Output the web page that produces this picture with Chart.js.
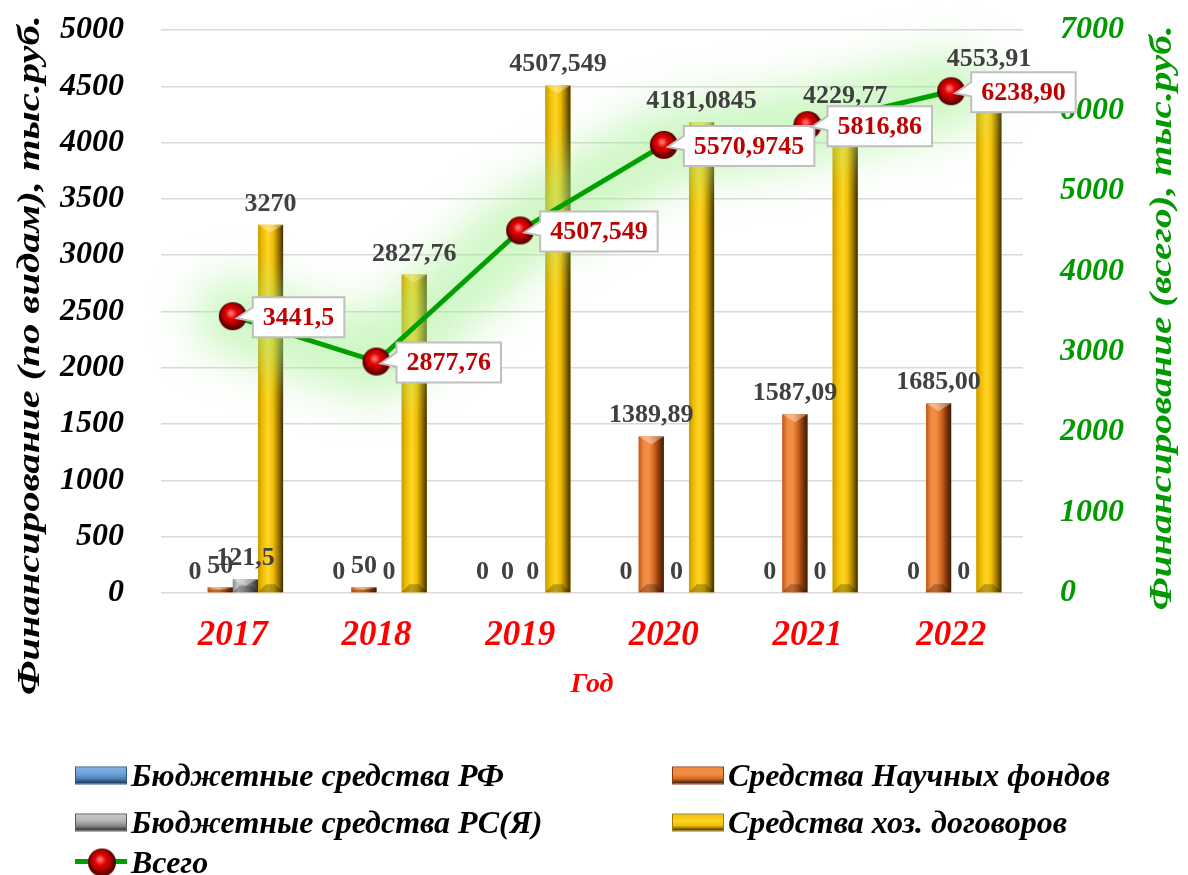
<!DOCTYPE html>
<html lang="ru">
<head>
<meta charset="utf-8">
<title>Финансирование</title>
<script src="https://cdn.jsdelivr.net/npm/chart.js@4.4.0/dist/chart.umd.min.js"></script>
<style>
  html, body { margin: 0; padding: 0; background: #fff; }
  #wrap { position: relative; width: 1188px; height: 875px; overflow: hidden; }
  #legend { position: absolute; left: 0; top: 0; width: 1188px; height: 875px; pointer-events: none;
            font-family: "Liberation Serif", "Times New Roman", serif; font-style: italic; font-weight: bold; font-size: 32px; color: #000; }
  .item { position: absolute; display: flex; align-items: center; white-space: nowrap; transform: translateY(-50%); }
  .swatch { width: 52px; height: 18px; margin-right: 4px; box-sizing: border-box; }
</style>
</head>
<body>
<div id="wrap">
  <canvas id="chart" width="1188" height="875"></canvas>
  <div id="legend"></div>
</div>
<script>
// данные: финансирование по годам, тыс. руб.
const years = ["2017", "2018", "2019", "2020", "2021", "2022"];
const budgetRF = [0, 0, 0, 0, 0, 0];
const sciFunds = [50, 50, 0, 1389.89, 1587.09, 1685.00];
const budgetRSY = [121.5, 0, 0, 0, 0, 0];
const contracts = [3270, 2827.76, 4507.549, 4181.0845, 4229.77, 4553.91];
const total = [3441.5, 2877.76, 4507.549, 5570.9745, 5816.86, 6238.90];
// сколько знаков после запятой в подписях
const rfDecimals = [0, 0, 0, 0, 0, 0];
const sciDecimals = [0, 0, 0, 2, 2, 2];
const rsyDecimals = [1, 0, 0, 0, 0, 0];
const contractDecimals = [0, 2, 3, 4, 2, 2];
const totalDecimals = [1, 2, 3, 4, 2, 2];

const serif = "'Liberation Serif', 'Times New Roman', serif";
const fmt = (v, d) => v.toFixed(d).replace(".", ",");

// глянцевый красный маркер
function makeMarker(r) {
  const c = document.createElement("canvas");
  c.width = c.height = 2 * r + 2;
  const g = c.getContext("2d");
  const cx = r + 1, cy = r + 1;
  let grad = g.createRadialGradient(cx, cy, r * 0.3, cx, cy, r);
  grad.addColorStop(0, "#b00000");
  grad.addColorStop(1, "#560000");
  g.fillStyle = grad;
  g.beginPath(); g.arc(cx, cy, r, 0, Math.PI * 2); g.fill();
  grad = g.createRadialGradient(cx - 2, cy - 3, 1, cx - 1, cy - 2, r * 0.8);
  grad.addColorStop(0, "#ff7070");
  grad.addColorStop(0.45, "#e00000");
  grad.addColorStop(1, "#a00000");
  g.fillStyle = grad;
  g.beginPath(); g.arc(cx - 1, cy - 2, r * 0.78, 0, Math.PI * 2); g.fill();
  return c;
}
const marker = makeMarker(14);

function barSet(label, data, decimals, color, shade) {
  return {
    type: "bar", label, data, decimals, shade,
    backgroundColor: color, borderWidth: 0,
    yAxisID: "y", order: 1,
    categoryPercentage: 0.7, barPercentage: 1.0
  };
}

const datasets = [
  barSet("Бюджетные средства РФ", budgetRF, rfDecimals, "#5b8fc7",
    ["#3a6ea5", "#7fb2e5", "#6fa3d8", "#4a7fb5", "#2c5580", "#1a3350"]),
  barSet("Средства Научных фондов", sciFunds, sciDecimals, "#e8793a",
    ["#c0561a", "#f08a40", "#f58e45", "#d06a25", "#8a3a0a", "#3a1a05"]),
  barSet("Бюджетные средства РС(Я)", budgetRSY, rsyDecimals, "#a0a0a0",
    ["#8a8a8a", "#c8c8c8", "#b4b4b4", "#8a8a8a", "#5a5a5a", "#303030"]),
  barSet("Средства хоз. договоров", contracts, contractDecimals, "#f5c400",
    ["#c99a06", "#f0c000", "#ffd42a", "#f2be00", "#a07a00", "#3e2e00"]),
  {
    type: "line", label: "Всего", data: total, decimals: totalDecimals,
    yAxisID: "y1", order: 0,
    borderColor: "#00a000", borderWidth: 5, tension: 0,
    pointStyle: marker, pointRadius: 14, pointHoverRadius: 14
  }
];

// объёмная заливка столбцов и свечение линии
const shading = {
  id: "shading",
  beforeDatasetDraw(chart, args) {
    if (args.meta.type !== "line") return;
    const ctx = chart.ctx;
    const pts = args.meta.data;
    ctx.save();
    ctx.filter = "blur(22px)";
    ctx.strokeStyle = "rgba(160, 240, 140, 0.5)";
    ctx.lineWidth = 80;
    ctx.lineJoin = "round";
    ctx.lineCap = "round";
    ctx.beginPath();
    pts.forEach((p, i) => i ? ctx.lineTo(p.x, p.y) : ctx.moveTo(p.x, p.y));
    ctx.stroke();
    ctx.restore();
  },
  afterDatasetDraw(chart, args) {
    if (args.meta.type !== "bar") return;
    const stops = chart.data.datasets[args.index].shade;
    const ctx = chart.ctx;
    args.meta.data.forEach(el => {
      const p = el.getProps(["x", "y", "base", "width"], true);
      const top = Math.min(p.y, p.base), h = Math.abs(p.base - p.y);
      if (h < 0.5) return;
      const l = p.x - p.width / 2, r = p.x + p.width / 2;
      const g = ctx.createLinearGradient(l, 0, r, 0);
      stops.forEach((c, i) => g.addColorStop(i / (stops.length - 1), c));
      ctx.save();
      ctx.fillStyle = g;
      ctx.fillRect(l, top, p.width, h);
      const b = Math.min(8, h / 2);
      ctx.fillStyle = "rgba(255,255,255,0.35)";
      ctx.beginPath();
      ctx.moveTo(l, top); ctx.lineTo(r, top); ctx.lineTo(p.x, top + b);
      ctx.closePath(); ctx.fill();
      ctx.fillStyle = "rgba(0,0,0,0.25)";
      ctx.beginPath();
      ctx.moveTo(l, top + h); ctx.lineTo(r, top + h);
      ctx.lineTo(r - b, top + h - b); ctx.lineTo(l + b, top + h - b);
      ctx.closePath(); ctx.fill();
      ctx.restore();
    });
  }
};

// повёрнутый заголовок оси, растянутый до нужной длины
function axisTitle(ctx, text, x, y, len, color) {
  ctx.save();
  ctx.font = "italic bold 32px " + serif;
  ctx.textAlign = "center";
  ctx.textBaseline = "middle";
  ctx.translate(x, y);
  ctx.rotate(-Math.PI / 2);
  ctx.scale(len / ctx.measureText(text).width, 1);
  ctx.fillStyle = color;
  ctx.fillText(text, 0, 0);
  ctx.restore();
}

// подписи значений
const valueLabels = {
  id: "valueLabels",
  afterDatasetsDraw(chart) {
    const ctx = chart.ctx;
    ctx.save();
    chart.data.datasets.forEach((ds, di) => {
      const meta = chart.getDatasetMeta(di);
      if (meta.type !== "bar") return;
      ctx.font = "bold 26px " + serif;
      ctx.fillStyle = "#404040";
      ctx.textAlign = "center";
      ctx.textBaseline = "alphabetic";
      meta.data.forEach((el, i) => {
        const p = el.getProps(["x", "y", "base"], true);
        ctx.fillText(fmt(ds.data[i], ds.decimals[i]), p.x, Math.min(p.y, p.base) - 14);
      });
    });
    chart.data.datasets.forEach((ds, di) => {
      const meta = chart.getDatasetMeta(di);
      if (meta.type !== "line") return;
      ctx.font = "bold 26px " + serif;
      meta.data.forEach((el, i) => {
        const text = fmt(ds.data[i], ds.decimals[i]);
        const w = ctx.measureText(text).width + 20;
        const hgt = 40;
        const L = el.x + 20, T = el.y - hgt / 2 + 1, R = L + w, B = T + hgt;
        ctx.beginPath();
        ctx.moveTo(L, T); ctx.lineTo(R, T); ctx.lineTo(R, B); ctx.lineTo(L, B);
        ctx.lineTo(L, T + 24); ctx.lineTo(el.x + 4, el.y + 2); ctx.lineTo(L, T + 10);
        ctx.closePath();
        ctx.fillStyle = "#ffffff";
        ctx.fill();
        ctx.strokeStyle = "#bfbfbf";
        ctx.lineWidth = 2;
        ctx.stroke();
        ctx.fillStyle = "#c00000";
        ctx.textAlign = "center";
        ctx.textBaseline = "middle";
        ctx.fillText(text, L + w / 2, T + hgt / 2 + 1);
      });
    });
    ctx.restore();
  },
  afterDraw(chart) {
    axisTitle(chart.ctx, "Финансирование (по видам), тыс.руб.", 31, 355, 680, "#000000");
    axisTitle(chart.ctx, "Финансирование (всего), тыс.руб.", 1163, 318, 585, "#009a00");
  }
};

const tickFont = { family: serif, size: 32, style: "italic", weight: "bold" };

const chart = new Chart(document.getElementById("chart").getContext("2d"), {
  data: { labels: years, datasets },
  options: {
    responsive: false,
    devicePixelRatio: 1,
    animation: false,
    layout: { padding: { top: 30, bottom: 172, left: 0, right: 0 } },
    plugins: { legend: { display: false }, tooltip: { enabled: false } },
    scales: {
      x: {
        grid: { display: false, drawTicks: false },
        border: { display: false },
        ticks: { color: "#ff0000", padding: 22, font: { family: serif, size: 35, style: "italic", weight: "bold" } },
        title: { display: true, text: "Год", color: "#ff0000", padding: { top: 0, bottom: 1 },
                 font: { family: serif, size: 28, style: "italic", weight: "bold" } },
        afterFit(s) { s.height = 110; }
      },
      y: {
        position: "left", min: 0, max: 5000,
        grid: { color: "#d9d9d9", lineWidth: 1.5, drawTicks: false },
        border: { display: false },
        ticks: { stepSize: 500, color: "#000", padding: 37, font: tickFont, callback: v => String(v) },
        afterFit(s) { s.width = 161; s.paddingTop = 10; s.paddingBottom = 10; }
      },
      y1: {
        position: "right", min: 0, max: 7000,
        grid: { display: false, drawTicks: false },
        border: { display: false },
        ticks: { stepSize: 1000, color: "#009a00", padding: 37, font: tickFont, callback: v => String(v) },
        afterFit(s) { s.width = 165; s.paddingTop = 10; s.paddingBottom = 10; }
      }
    }
  },
  plugins: [shading, valueLabels]
});

// легенда в две колонки
const legend = document.getElementById("legend");
const colX = [75, 672];
const rowY = [775, 822, 862];
chart.data.datasets.forEach((ds, i) => {
  const item = document.createElement("div");
  item.className = "item";
  item.style.left = colX[i % 2] + "px";
  item.style.top = rowY[Math.floor(i / 2)] + "px";
  const sw = document.createElement("div");
  sw.className = "swatch";
  if (ds.type === "bar") {
    const s = ds.shade;
    sw.style.background = `linear-gradient(to bottom, ${s[1]}, ${s[2]} 40%, ${s[3]} 70%, ${s[5]})`;
    sw.style.border = `1px solid ${s[4]}`;
  } else {
    sw.style.position = "relative";
    sw.style.height = "30px";
    sw.style.background = `linear-gradient(to bottom, transparent 12px, ${ds.borderColor} 12px, ${ds.borderColor} 17px, transparent 17px)`;
    const img = document.createElement("img");
    img.src = marker.toDataURL();
    img.style.position = "absolute";
    img.style.left = "12px";
    img.style.top = "0px";
    sw.appendChild(img);
  }
  const txt = document.createElement("span");
  txt.textContent = ds.label;
  item.appendChild(sw);
  item.appendChild(txt);
  legend.appendChild(item);
});
</script>
</body>
</html>
